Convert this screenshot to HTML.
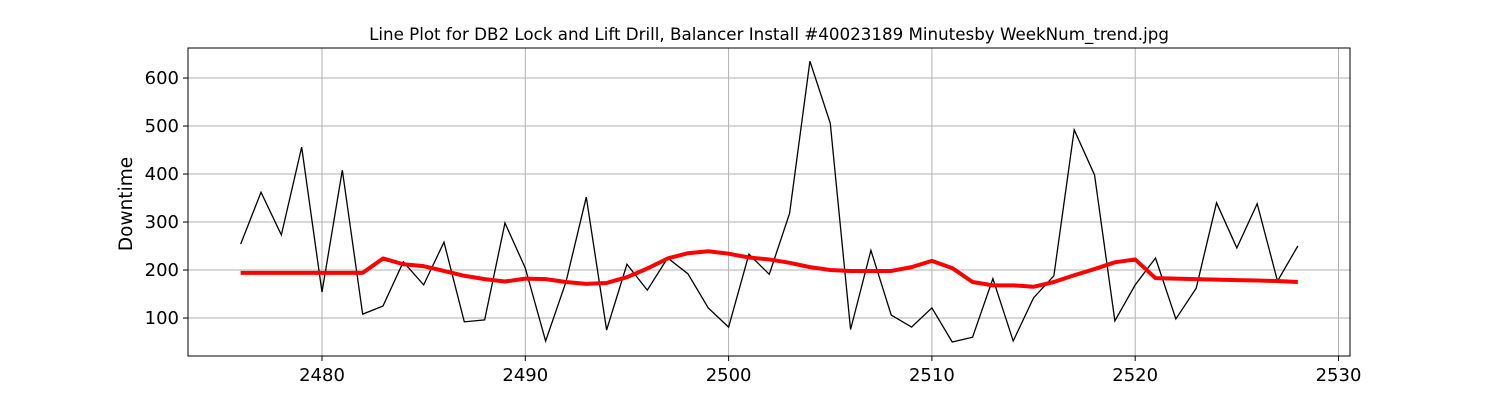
<!DOCTYPE html>
<html><head><meta charset="utf-8"><style>
body{margin:0;background:#fff;width:1500px;height:400px;overflow:hidden;font-family:"DejaVu Sans","Liberation Sans",sans-serif;}
</style></head><body>
<svg id="chart" width="1500" height="400" xmlns="http://www.w3.org/2000/svg"></svg>
<script>
const weeks = [];
for (let w = 2476; w <= 2528; w++) weeks.push(w);
const downtime = [254,362,273,456,154,408,108,125,217,169,258,92,96,298,204,52,175,352,75,212,158,225,192,121,81,233,191,318,635,506,76,241,106,81,121,50,60,182,52,142,188,492,398,94,169,225,98,162,340,246,338,177,250];
const trend = [194,194,194,194,194,194,194,224,212,208,198,188,181,176,182,181,175,171,173,185,203,224,235,239,234,226,222,215,206,200,198,198,198,206,219,204,175,168,168,165,175,189,202,216,222,183,182,181,180,179,178,177,175];
const xTicks = [2480,2490,2500,2510,2520,2530];
const yTicks = [100,200,300,400,500,600];

const L=188,R=1350,T=48,B=356;
const x = v => 322 + (v-2480)*20.33;
const y = v => 366 - v*0.48;
const NS="http://www.w3.org/2000/svg";
const svg=document.getElementById('chart');
function mk(tag,attrs){const e=document.createElementNS(NS,tag);for(const k in attrs)e.setAttribute(k,attrs[k]);svg.appendChild(e);return e;}

const title=mk('text',{x:769,y:40,'text-anchor':'middle','font-size':16.7,fill:'#000'});
title.textContent='Line Plot for DB2 Lock and Lift Drill, Balancer Install #40023189 Minutesby WeekNum_trend.jpg';



xTicks.forEach(t=>{
  const g=mk('line',{x1:x(t),x2:x(t),y1:T,y2:B,stroke:'#b0b0b0','stroke-width':1});
  
  
  mk('line',{x1:x(t),x2:x(t),y1:B,y2:B+5,stroke:'#000'});
  const lb=mk('text',{x:x(t),y:B+25,'text-anchor':'middle','font-size':18});
  lb.textContent=t;
  
  
});
yTicks.forEach(t=>{
  const g=mk('line',{x1:L,x2:R,y1:y(t),y2:y(t),stroke:'#b0b0b0','stroke-width':1});
  
  
  mk('line',{x1:L-5,x2:L,y1:y(t),y2:y(t),stroke:'#000'});
  const lb=mk('text',{x:L-9,y:y(t)+6,'text-anchor':'end','font-size':18});
  lb.textContent=t;
  
  
});
const yl=mk('text',{x:0,y:0,transform:'translate(132,204) rotate(-90)','text-anchor':'middle','font-size':18.5});
yl.textContent='Downtime';



const p1=mk('polyline',{points:weeks.map((w,i)=>x(w)+','+y(downtime[i])).join(' '),fill:'none',stroke:'#000','stroke-width':1.3});


const p2=mk('polyline',{points:weeks.map((w,i)=>x(w)+','+y(trend[i])).join(' '),fill:'none',stroke:'#ff0000','stroke-width':4,'stroke-linejoin':'round'});



const fr=mk('rect',{x:L,y:T,width:R-L,height:B-T,fill:'none',stroke:'#000','stroke-width':1});


</script>
</body></html>
